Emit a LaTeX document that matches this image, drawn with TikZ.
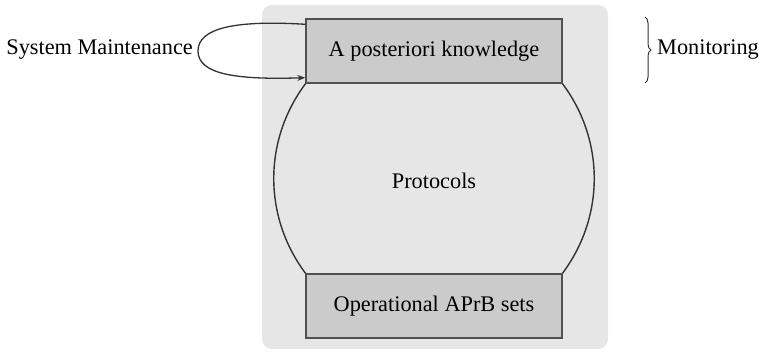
\documentclass[tikz,border=0pt]{standalone}
\usepackage{fontspec}
\setmainfont{Liberation Serif}
\usetikzlibrary{decorations.pathreplacing,arrows.meta}
\definecolor{bggray}{HTML}{E6E6E6}
\definecolor{boxgray}{HTML}{CBCBCB}
\definecolor{edgegray}{HTML}{505050}
\definecolor{linegray}{HTML}{333333}
\begin{document}
\begin{tikzpicture}[x=1pt,y=-1pt,
  txt/.style={font=\fontsize{22.3}{26}\selectfont, text=black, inner sep=0pt},
  layerbox/.style={draw=edgegray, fill=boxgray, line width=1.4pt, minimum width=256pt, minimum height=64pt, inner sep=0pt, font=\fontsize{22.3}{26}\selectfont},
  curve/.style={draw=linegray, line width=1.4pt},
  arr/.style={draw=linegray, line width=1.3pt, -{Stealth[length=8pt,width=6pt]}}
]
\useasboundingbox (0,0) rectangle (761,352);
% background panel
\node[fill=bggray, rounded corners=10pt, minimum width=346pt, minimum height=344pt, inner sep=0pt] (bg) at (435,177) {};
% protocol outline
\coordinate (tl) at (306,83);
\coordinate (tr) at (562,83);
\coordinate (bl) at (306,274);
\coordinate (br) at (562,274);
\draw[curve] (tl) .. controls (263,140) and (263,217) .. (bl);
\draw[curve] (tr) .. controls (605,140) and (605,217) .. (br);
\node[txt] (prot) at (434,181) {Protocols};
% boxes
\node[layerbox] (apk) at (434,51) {A posteriori knowledge};
\node[layerbox] (oas) at (434,306) {Operational APrB sets};
% loop
\node[txt, anchor=east] (sm) at (193,50) {System Maintenance};
\draw[arr] ([yshift=-6pt]apk.north west) .. controls (235,20) and (198,28) .. (198,51)
  .. controls (198,74) and (235,80) .. ([yshift=6pt]apk.south west);
% monitoring brace
\node[txt, anchor=west] (mon) at (657,50) {Monitoring};
\coordinate (bt) at (645,17);
\coordinate (bb) at (645,83);
\draw[linegray, line width=1pt, decorate, decoration={brace, amplitude=6pt}] (bt) -- (bb);
\end{tikzpicture}
\end{document}
